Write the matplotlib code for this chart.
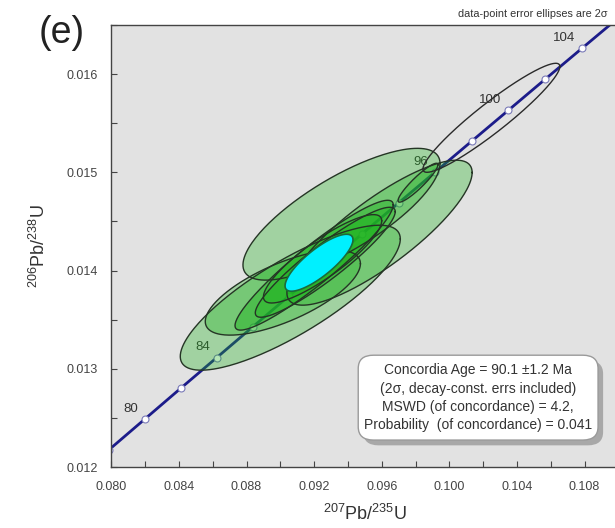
import numpy as np
import matplotlib
matplotlib.use("Agg")
import matplotlib.pyplot as plt
from matplotlib.patches import FancyBboxPatch

plt.rcParams['font.family'] = ['Liberation Sans', 'DejaVu Sans']
plt.rcParams['mathtext.fontset'] = 'custom'
plt.rcParams['mathtext.rm'] = 'Liberation Sans'

# ---- Concordia curve: ages (Ma) and ratios ----
conc_age = [78, 80, 82, 84, 86, 88, 90, 92, 94, 96, 98, 100, 102, 104, 106]
conc_x = [0.079846, 0.081975, 0.084108, 0.086245, 0.088387, 0.090533, 0.092684,
          0.094838, 0.096996, 0.099159, 0.101326, 0.103498, 0.105673, 0.107854, 0.110038]
conc_y = [0.012173, 0.012487, 0.012802, 0.013115, 0.013430, 0.013745, 0.014059,
          0.014374, 0.014689, 0.015003, 0.015318, 0.015633, 0.015949, 0.016264, 0.016579]
label_ages = [80, 84, 96, 100, 104]

# ---- Data-point error ellipses (2 sigma): 207Pb/235U, 2s, 206Pb/238U, 2s, rho ----
ell_x = [0.09059, 0.09587, 0.09362, 0.09015, 0.09200, 0.09266, 0.09250, 0.098145]
ell_sx = [0.00651, 0.00548, 0.00583, 0.00459, 0.00468, 0.00414, 0.00350, 0.00118]
ell_y = [0.013724, 0.014386, 0.014574, 0.013776, 0.014055, 0.014085, 0.014120, 0.014895]
ell_sy = [0.000738, 0.000738, 0.000671, 0.000433, 0.000661, 0.000560, 0.000450, 0.000198]
ell_rho = [0.81, 0.83, 0.77, 0.68, 0.93, 0.92, 0.86, 0.92]
ell_alpha = [0.33, 0.33, 0.33, 0.33, 0.45, 0.40, 0.38, 0.33]

# excluded (open) ellipse
open_x, open_sx, open_y, open_sy, open_rho = 0.10249, 0.00405, 0.015556, 0.000555, 0.94

# concordia age ellipse
age_x, age_sx, age_y, age_sy, age_rho = 0.09229, 0.00201, 0.014080, 0.000290, 0.81

box_lines = ["Concordia Age = 90.1 \u00b11.2 Ma",
             "(2\u03c3, decay-const. errs included)",
             "MSWD (of concordance) = 4.2,",
             "Probability  (of concordance) = 0.041"]


def ellipse_xy(x0, sx, y0, sy, rho, n=240):
    t = np.linspace(0, 2 * np.pi, n)
    x = x0 + sx * np.cos(t)
    y = y0 + sy * (rho * np.cos(t) + np.sqrt(1 - rho ** 2) * np.sin(t))
    return x, y


fig = plt.figure(figsize=(6.15, 5.28), dpi=100)
ax = fig.add_axes([0.181, 0.1155, 0.8244, 0.837])
ax.set_facecolor('#e2e2e2')
ax.set_xlim(0.080, 0.110)
ax.set_ylim(0.012, 0.0165)

# concordia
ax.plot(conc_x, conc_y, color='#1c1c8a', lw=2.0, zorder=2, solid_capstyle='butt')
ax.plot(conc_x, conc_y, 'o', ms=5, mfc='white', mec='#7a7ab8', mew=0.8, zorder=2.1)
for a, cx, cy in zip(conc_age, conc_x, conc_y):
    if a in label_ages:
        ax.annotate(str(a), (cx, cy), xytext=(-5, 3), textcoords='offset points',
                    ha='right', va='bottom', fontsize=9.5, color='#333333', zorder=2.2)

# data ellipses
for x0, sx, y0, sy, r, al in zip(ell_x, ell_sx, ell_y, ell_sy, ell_rho, ell_alpha):
    ex, ey = ellipse_xy(x0, sx, y0, sy, r)
    ax.fill(ex, ey, facecolor='#1fb41f', alpha=al, edgecolor='none', zorder=3)
    ax.plot(ex, ey, color='#253525', lw=1.0, zorder=3.5)

ex, ey = ellipse_xy(open_x, open_sx, open_y, open_sy, open_rho)
ax.plot(ex, ey, color='#2a2a2a', lw=1.0, zorder=3.5)

ex, ey = ellipse_xy(age_x, age_sx, age_y, age_sy, age_rho)
ax.fill(ex, ey, facecolor='#00f0ff', edgecolor='#1b6b3b', lw=1.2, zorder=4)

# ticks
ax.set_xticks(np.arange(0.080, 0.1101, 0.004))
ax.set_xticks(np.arange(0.080, 0.1101, 0.002), minor=True)
ax.set_yticks(np.arange(0.012, 0.01651, 0.001))
ax.set_yticks(np.arange(0.012, 0.01651, 0.0005), minor=True)
ax.xaxis.set_major_formatter(plt.FuncFormatter(lambda v, p: f"{v:.3f}"))
ax.yaxis.set_major_formatter(plt.FuncFormatter(lambda v, p: f"{v:.3f}"))
ax.tick_params(which='both', direction='in', length=4, width=0.8, color='#444444',
               labelsize=9, labelcolor='#444444', top=False, right=False)
ax.tick_params(axis='x', pad=10)
ax.tick_params(axis='y', pad=10)
for s in ['left', 'bottom', 'top']:
    ax.spines[s].set_color('#444444')
    ax.spines[s].set_linewidth(1.0)
ax.spines['right'].set_visible(False)

ax.set_xlabel(r'$\mathregular{^{207}Pb/^{235}U}$', fontsize=13, color='#333333', labelpad=8)
ax.set_ylabel(r'$\mathregular{^{206}Pb/^{238}U}$', fontsize=13, color='#333333', labelpad=12)

# result box with shadow
bx0, by0, bw, bh = 0.487, 0.061, 0.473, 0.192
shadow = FancyBboxPatch((bx0 + 0.010, by0 - 0.012), bw, bh,
                        boxstyle='round,pad=0,rounding_size=0.03',
                        transform=ax.transAxes, facecolor='#a8a8a8', edgecolor='none', zorder=5)
box = FancyBboxPatch((bx0, by0), bw, bh, boxstyle='round,pad=0,rounding_size=0.03',
                     transform=ax.transAxes, facecolor='white', edgecolor='#9a9a9a',
                     lw=1.0, zorder=6)
ax.add_patch(shadow)
ax.add_patch(box)
ax.text(bx0 + bw / 2, by0 + bh / 2, "\n".join(box_lines), transform=ax.transAxes,
        ha='center', va='center', fontsize=10, color='#333333', linespacing=1.38, zorder=7)

fig.text(0.988, 1 - 14 / 528, "data-point error ellipses are 2\u03c3", ha='right', va='center',
         fontsize=7.8, color='#333333')
fig.text(0.062, 1 - 33 / 528, "(e)", ha='left', va='center', fontsize=27, color='#222222')

fig.savefig('out.png', dpi=100, facecolor='white')
